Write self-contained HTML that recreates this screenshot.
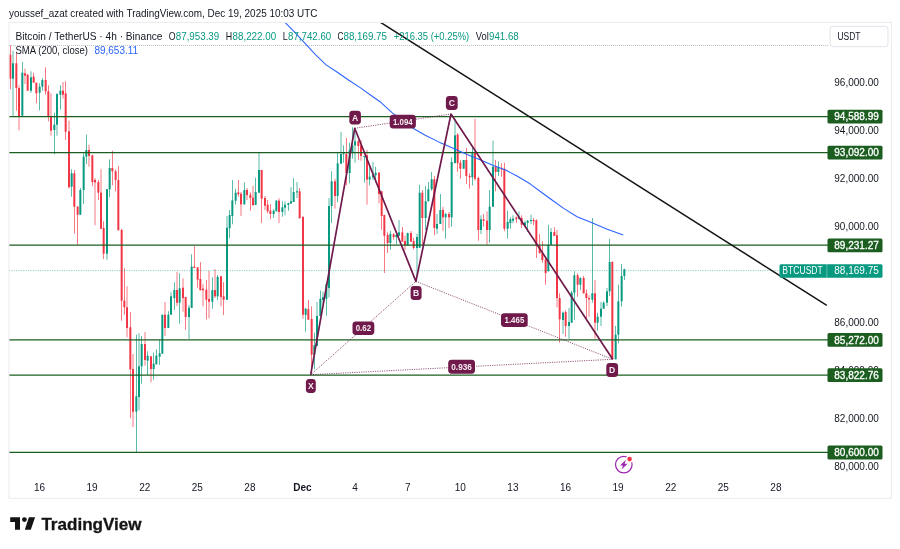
<!DOCTYPE html><html><head><meta charset="utf-8"><title>chart</title><style>html,body{margin:0;padding:0;background:#fff}svg{display:block;will-change:transform}</style></head><body><svg width="900" height="549" viewBox="0 0 900 549" font-family='"Liberation Sans", sans-serif'>
<rect width="900" height="549" fill="#fff"/>
<text x="9" y="16.7" font-size="10.6" fill="#131722" textLength="308.5" lengthAdjust="spacingAndGlyphs">youssef_azat created with TradingView.com, Dec 19, 2025 10:03 UTC</text>
<rect x="8.9" y="22.4" width="882.5" height="475.90000000000003" fill="#fff" stroke="#ebebef" stroke-width="1"/>
<clipPath id="cp"><rect x="9.4" y="22.9" width="818.6" height="474.90000000000003"/></clipPath>
<g clip-path="url(#cp)">
<rect x="10.000" y="45.3" width="0.667" height="44.0" fill="#f23645"/>
<rect x="9.333" y="54.7" width="2" height="24.0" fill="#f23645"/>
<rect x="12.667" y="50.7" width="0.667" height="65.0" fill="#089981"/>
<rect x="12.000" y="63.3" width="2" height="15.4" fill="#089981"/>
<rect x="16.000" y="52.0" width="0.667" height="58.7" fill="#f23645"/>
<rect x="15.333" y="63.3" width="2" height="24.7" fill="#f23645"/>
<rect x="18.667" y="85.3" width="0.667" height="45.1" fill="#f23645"/>
<rect x="18.000" y="88.0" width="2" height="28.0" fill="#f23645"/>
<rect x="22.000" y="62.0" width="0.667" height="53.7" fill="#089981"/>
<rect x="21.333" y="72.7" width="2" height="43.0" fill="#089981"/>
<rect x="24.667" y="68.7" width="0.667" height="15.3" fill="#f23645"/>
<rect x="24.000" y="73.3" width="2" height="2.4" fill="#f23645"/>
<rect x="27.333" y="74.0" width="0.667" height="16.7" fill="#f23645"/>
<rect x="26.667" y="74.7" width="2" height="16.0" fill="#f23645"/>
<rect x="30.667" y="71.3" width="0.667" height="21.4" fill="#089981"/>
<rect x="30.000" y="77.3" width="2" height="13.4" fill="#089981"/>
<rect x="33.333" y="72.7" width="0.667" height="10.0" fill="#f23645"/>
<rect x="32.667" y="76.7" width="2" height="6.0" fill="#f23645"/>
<rect x="36.000" y="82.7" width="0.667" height="20.6" fill="#f23645"/>
<rect x="35.333" y="82.7" width="2" height="10.6" fill="#f23645"/>
<rect x="39.333" y="83.3" width="0.667" height="27.1" fill="#089981"/>
<rect x="38.667" y="86.7" width="2" height="6.0" fill="#089981"/>
<rect x="42.000" y="78.0" width="0.667" height="12.7" fill="#089981"/>
<rect x="41.333" y="80.0" width="2" height="6.7" fill="#089981"/>
<rect x="45.333" y="67.3" width="0.667" height="27.4" fill="#f23645"/>
<rect x="44.667" y="80.0" width="2" height="11.3" fill="#f23645"/>
<rect x="48.000" y="85.3" width="0.667" height="36.0" fill="#f23645"/>
<rect x="47.333" y="91.3" width="2" height="24.7" fill="#f23645"/>
<rect x="50.667" y="93.3" width="0.667" height="42.4" fill="#f23645"/>
<rect x="50.000" y="116.0" width="2" height="14.7" fill="#f23645"/>
<rect x="54.000" y="112.7" width="0.667" height="41.7" fill="#089981"/>
<rect x="53.333" y="124.7" width="2" height="5.3" fill="#089981"/>
<rect x="56.667" y="93.3" width="0.667" height="42.4" fill="#089981"/>
<rect x="56.000" y="94.0" width="2" height="30.7" fill="#089981"/>
<rect x="60.000" y="85.3" width="0.667" height="24.3" fill="#089981"/>
<rect x="59.333" y="90.7" width="2" height="4.0" fill="#089981"/>
<rect x="62.667" y="82.0" width="0.667" height="16.7" fill="#f23645"/>
<rect x="62.000" y="90.7" width="2" height="4.0" fill="#f23645"/>
<rect x="65.333" y="81.3" width="0.667" height="58.7" fill="#f23645"/>
<rect x="64.667" y="93.3" width="2" height="38.4" fill="#f23645"/>
<rect x="68.667" y="120.7" width="0.667" height="67.3" fill="#f23645"/>
<rect x="68.000" y="131.3" width="2" height="56.0" fill="#f23645"/>
<rect x="71.333" y="169.3" width="0.667" height="27.4" fill="#089981"/>
<rect x="70.667" y="173.3" width="2" height="13.4" fill="#089981"/>
<rect x="74.000" y="170.0" width="0.667" height="63.7" fill="#f23645"/>
<rect x="73.333" y="173.3" width="2" height="33.4" fill="#f23645"/>
<rect x="77.333" y="206.0" width="0.667" height="38.7" fill="#f23645"/>
<rect x="76.667" y="206.7" width="2" height="8.0" fill="#f23645"/>
<rect x="80.000" y="188.0" width="0.667" height="26.7" fill="#089981"/>
<rect x="79.333" y="190.0" width="2" height="24.7" fill="#089981"/>
<rect x="83.333" y="153.3" width="0.667" height="50.7" fill="#089981"/>
<rect x="82.667" y="156.7" width="2" height="33.3" fill="#089981"/>
<rect x="86.000" y="134.7" width="0.667" height="29.3" fill="#089981"/>
<rect x="85.333" y="150.0" width="2" height="6.7" fill="#089981"/>
<rect x="88.667" y="144.7" width="0.667" height="22.0" fill="#f23645"/>
<rect x="88.000" y="150.0" width="2" height="6.0" fill="#f23645"/>
<rect x="92.000" y="154.7" width="0.667" height="31.3" fill="#f23645"/>
<rect x="91.333" y="155.3" width="2" height="26.7" fill="#f23645"/>
<rect x="94.667" y="178.0" width="0.667" height="47.3" fill="#f23645"/>
<rect x="94.000" y="180.0" width="2" height="2.4" fill="#f23645"/>
<rect x="98.000" y="180.0" width="0.667" height="20.0" fill="#f23645"/>
<rect x="97.333" y="182.0" width="2" height="10.7" fill="#f23645"/>
<rect x="100.667" y="169.3" width="0.667" height="59.4" fill="#f23645"/>
<rect x="100.000" y="192.7" width="2" height="36.0" fill="#f23645"/>
<rect x="103.333" y="221.3" width="0.667" height="37.7" fill="#f23645"/>
<rect x="102.667" y="228.0" width="2" height="25.7" fill="#f23645"/>
<rect x="106.667" y="189.1" width="0.667" height="70.6" fill="#089981"/>
<rect x="106.000" y="189.1" width="2" height="64.6" fill="#089981"/>
<rect x="109.333" y="159.3" width="0.667" height="38.0" fill="#089981"/>
<rect x="108.667" y="168.0" width="2" height="21.3" fill="#089981"/>
<rect x="112.000" y="150.7" width="0.667" height="34.6" fill="#f23645"/>
<rect x="111.333" y="168.0" width="2" height="3.3" fill="#f23645"/>
<rect x="115.333" y="169.3" width="0.667" height="22.0" fill="#f23645"/>
<rect x="114.667" y="171.3" width="2" height="8.7" fill="#f23645"/>
<rect x="118.000" y="166.0" width="0.667" height="64.3" fill="#f23645"/>
<rect x="117.333" y="180.0" width="2" height="50.3" fill="#f23645"/>
<rect x="121.333" y="228.7" width="0.667" height="92.0" fill="#f23645"/>
<rect x="120.667" y="230.0" width="2" height="70.7" fill="#f23645"/>
<rect x="124.000" y="268.3" width="0.667" height="46.4" fill="#f23645"/>
<rect x="123.333" y="300.7" width="2" height="6.6" fill="#f23645"/>
<rect x="126.667" y="286.3" width="0.667" height="51.0" fill="#f23645"/>
<rect x="126.000" y="307.3" width="2" height="20.7" fill="#f23645"/>
<rect x="130.000" y="312.0" width="0.667" height="106.3" fill="#f23645"/>
<rect x="129.333" y="327.3" width="2" height="42.1" fill="#f23645"/>
<rect x="132.667" y="354.0" width="0.667" height="73.0" fill="#f23645"/>
<rect x="132.000" y="369.0" width="2" height="42.7" fill="#f23645"/>
<rect x="136.000" y="334.7" width="0.667" height="117.3" fill="#089981"/>
<rect x="135.333" y="396.3" width="2" height="15.4" fill="#089981"/>
<rect x="138.667" y="333.3" width="0.667" height="77.0" fill="#089981"/>
<rect x="138.000" y="366.3" width="2" height="30.7" fill="#089981"/>
<rect x="141.333" y="336.0" width="0.667" height="47.7" fill="#089981"/>
<rect x="140.667" y="344.0" width="2" height="22.3" fill="#089981"/>
<rect x="144.667" y="332.0" width="0.667" height="33.7" fill="#f23645"/>
<rect x="144.000" y="344.0" width="2" height="16.0" fill="#f23645"/>
<rect x="147.333" y="351.3" width="0.667" height="23.7" fill="#089981"/>
<rect x="146.667" y="355.7" width="2" height="5.0" fill="#089981"/>
<rect x="150.667" y="356.0" width="0.667" height="26.3" fill="#f23645"/>
<rect x="150.000" y="356.3" width="2" height="12.7" fill="#f23645"/>
<rect x="153.333" y="352.7" width="0.667" height="27.0" fill="#089981"/>
<rect x="152.667" y="363.7" width="2" height="5.3" fill="#089981"/>
<rect x="156.000" y="349.3" width="0.667" height="15.0" fill="#089981"/>
<rect x="155.333" y="355.7" width="2" height="8.6" fill="#089981"/>
<rect x="159.333" y="340.0" width="0.667" height="25.0" fill="#089981"/>
<rect x="158.667" y="353.3" width="2" height="3.4" fill="#089981"/>
<rect x="162.000" y="314.7" width="0.667" height="39.0" fill="#089981"/>
<rect x="161.333" y="314.7" width="2" height="39.0" fill="#089981"/>
<rect x="164.667" y="302.0" width="0.667" height="34.0" fill="#f23645"/>
<rect x="164.000" y="314.7" width="2" height="13.3" fill="#f23645"/>
<rect x="168.000" y="311.3" width="0.667" height="16.7" fill="#089981"/>
<rect x="167.333" y="314.7" width="2" height="13.3" fill="#089981"/>
<rect x="170.667" y="292.3" width="0.667" height="22.4" fill="#089981"/>
<rect x="170.000" y="296.3" width="2" height="18.4" fill="#089981"/>
<rect x="174.000" y="282.3" width="0.667" height="27.7" fill="#089981"/>
<rect x="173.333" y="290.0" width="2" height="8.1" fill="#089981"/>
<rect x="176.667" y="271.7" width="0.667" height="34.3" fill="#f23645"/>
<rect x="176.000" y="290.0" width="2" height="12.7" fill="#f23645"/>
<rect x="179.333" y="273.3" width="0.667" height="50.4" fill="#089981"/>
<rect x="178.667" y="288.3" width="2" height="14.4" fill="#089981"/>
<rect x="182.667" y="278.3" width="0.667" height="33.4" fill="#f23645"/>
<rect x="182.000" y="287.7" width="2" height="10.4" fill="#f23645"/>
<rect x="185.333" y="297.0" width="0.667" height="32.7" fill="#f23645"/>
<rect x="184.667" y="297.0" width="2" height="20.0" fill="#f23645"/>
<rect x="188.667" y="305.0" width="0.667" height="34.0" fill="#089981"/>
<rect x="188.000" y="307.7" width="2" height="9.3" fill="#089981"/>
<rect x="191.333" y="254.3" width="0.667" height="53.6" fill="#089981"/>
<rect x="190.667" y="266.6" width="2" height="41.3" fill="#089981"/>
<rect x="194.000" y="246.1" width="0.667" height="21.8" fill="#f23645"/>
<rect x="193.333" y="266.6" width="2" height="1.3" fill="#f23645"/>
<rect x="197.333" y="267.0" width="0.667" height="20.7" fill="#f23645"/>
<rect x="196.667" y="267.4" width="2" height="12.3" fill="#f23645"/>
<rect x="200.000" y="262.1" width="0.667" height="28.2" fill="#f23645"/>
<rect x="199.333" y="279.0" width="2" height="11.3" fill="#f23645"/>
<rect x="202.667" y="284.3" width="0.667" height="22.0" fill="#f23645"/>
<rect x="202.000" y="288.7" width="2" height="1.6" fill="#f23645"/>
<rect x="206.000" y="279.9" width="0.667" height="39.5" fill="#f23645"/>
<rect x="205.333" y="289.7" width="2" height="10.0" fill="#f23645"/>
<rect x="208.667" y="271.0" width="0.667" height="47.3" fill="#f23645"/>
<rect x="208.000" y="299.0" width="2" height="2.7" fill="#f23645"/>
<rect x="212.000" y="277.3" width="0.667" height="31.4" fill="#089981"/>
<rect x="211.333" y="290.1" width="2" height="11.6" fill="#089981"/>
<rect x="214.667" y="269.0" width="0.667" height="29.1" fill="#f23645"/>
<rect x="214.000" y="290.1" width="2" height="6.2" fill="#f23645"/>
<rect x="217.333" y="275.0" width="0.667" height="25.3" fill="#089981"/>
<rect x="216.667" y="277.0" width="2" height="19.3" fill="#089981"/>
<rect x="220.667" y="275.7" width="0.667" height="30.6" fill="#f23645"/>
<rect x="220.000" y="276.3" width="2" height="20.7" fill="#f23645"/>
<rect x="223.333" y="282.1" width="0.667" height="32.9" fill="#f23645"/>
<rect x="222.667" y="296.3" width="2" height="3.4" fill="#f23645"/>
<rect x="226.667" y="216.0" width="0.667" height="83.7" fill="#089981"/>
<rect x="226.000" y="227.7" width="2" height="72.0" fill="#089981"/>
<rect x="229.333" y="210.0" width="0.667" height="28.3" fill="#089981"/>
<rect x="228.667" y="215.0" width="2" height="13.3" fill="#089981"/>
<rect x="232.000" y="180.0" width="0.667" height="44.3" fill="#089981"/>
<rect x="231.333" y="200.4" width="2" height="15.6" fill="#089981"/>
<rect x="235.333" y="188.7" width="0.667" height="16.0" fill="#089981"/>
<rect x="234.667" y="192.7" width="2" height="8.0" fill="#089981"/>
<rect x="238.000" y="180.0" width="0.667" height="16.7" fill="#f23645"/>
<rect x="237.333" y="192.4" width="2" height="1.9" fill="#f23645"/>
<rect x="240.667" y="192.0" width="0.667" height="24.0" fill="#f23645"/>
<rect x="240.000" y="193.7" width="2" height="10.7" fill="#f23645"/>
<rect x="244.000" y="182.3" width="0.667" height="22.1" fill="#089981"/>
<rect x="243.333" y="190.0" width="2" height="14.4" fill="#089981"/>
<rect x="246.667" y="188.0" width="0.667" height="12.0" fill="#f23645"/>
<rect x="246.000" y="190.0" width="2" height="5.1" fill="#f23645"/>
<rect x="250.000" y="192.4" width="0.667" height="18.3" fill="#f23645"/>
<rect x="249.333" y="194.7" width="2" height="3.3" fill="#f23645"/>
<rect x="252.667" y="185.7" width="0.667" height="19.6" fill="#f23645"/>
<rect x="252.000" y="197.7" width="2" height="7.6" fill="#f23645"/>
<rect x="255.333" y="177.7" width="0.667" height="27.2" fill="#089981"/>
<rect x="254.667" y="192.0" width="2" height="12.9" fill="#089981"/>
<rect x="258.667" y="152.4" width="0.667" height="40.3" fill="#089981"/>
<rect x="258.000" y="170.0" width="2" height="22.7" fill="#089981"/>
<rect x="261.333" y="170.0" width="0.667" height="53.1" fill="#f23645"/>
<rect x="260.667" y="170.0" width="2" height="28.7" fill="#f23645"/>
<rect x="264.667" y="196.0" width="0.667" height="14.0" fill="#f23645"/>
<rect x="264.000" y="198.0" width="2" height="7.7" fill="#f23645"/>
<rect x="267.333" y="200.0" width="0.667" height="13.3" fill="#f23645"/>
<rect x="266.667" y="204.7" width="2" height="6.6" fill="#f23645"/>
<rect x="270.000" y="204.0" width="0.667" height="15.1" fill="#f23645"/>
<rect x="269.333" y="210.7" width="2" height="3.3" fill="#f23645"/>
<rect x="273.333" y="209.3" width="0.667" height="8.7" fill="#089981"/>
<rect x="272.667" y="210.7" width="2" height="3.3" fill="#089981"/>
<rect x="276.000" y="200.0" width="0.667" height="11.3" fill="#089981"/>
<rect x="275.333" y="200.7" width="2" height="10.6" fill="#089981"/>
<rect x="278.667" y="198.3" width="0.667" height="24.8" fill="#f23645"/>
<rect x="278.000" y="200.7" width="2" height="11.3" fill="#f23645"/>
<rect x="282.000" y="201.3" width="0.667" height="15.4" fill="#089981"/>
<rect x="281.333" y="207.3" width="2" height="4.7" fill="#089981"/>
<rect x="284.667" y="201.3" width="0.667" height="14.0" fill="#089981"/>
<rect x="284.000" y="204.7" width="2" height="2.9" fill="#089981"/>
<rect x="288.000" y="202.7" width="0.667" height="8.0" fill="#089981"/>
<rect x="287.333" y="203.1" width="2" height="1.8" fill="#089981"/>
<rect x="290.667" y="187.1" width="0.667" height="16.5" fill="#089981"/>
<rect x="290.000" y="201.3" width="2" height="2.3" fill="#089981"/>
<rect x="293.333" y="178.3" width="0.667" height="23.7" fill="#089981"/>
<rect x="292.667" y="192.0" width="2" height="10.0" fill="#089981"/>
<rect x="296.667" y="182.0" width="0.667" height="16.0" fill="#089981"/>
<rect x="296.000" y="191.3" width="2" height="1.1" fill="#089981"/>
<rect x="299.333" y="188.0" width="0.667" height="30.3" fill="#f23645"/>
<rect x="298.667" y="191.3" width="2" height="27.0" fill="#f23645"/>
<rect x="302.667" y="216.0" width="0.667" height="102.7" fill="#f23645"/>
<rect x="302.000" y="217.0" width="2" height="97.7" fill="#f23645"/>
<rect x="305.333" y="308.0" width="0.667" height="23.7" fill="#089981"/>
<rect x="304.667" y="308.7" width="2" height="6.2" fill="#089981"/>
<rect x="308.000" y="300.0" width="0.667" height="19.7" fill="#f23645"/>
<rect x="307.333" y="309.1" width="2" height="10.6" fill="#f23645"/>
<rect x="311.333" y="306.4" width="0.667" height="66.3" fill="#f23645"/>
<rect x="310.667" y="318.9" width="2" height="35.8" fill="#f23645"/>
<rect x="314.000" y="332.7" width="0.667" height="36.6" fill="#089981"/>
<rect x="313.333" y="345.3" width="2" height="9.4" fill="#089981"/>
<rect x="316.667" y="302.0" width="0.667" height="44.0" fill="#089981"/>
<rect x="316.000" y="316.0" width="2" height="30.0" fill="#089981"/>
<rect x="320.000" y="290.4" width="0.667" height="25.6" fill="#089981"/>
<rect x="319.333" y="298.9" width="2" height="17.1" fill="#089981"/>
<rect x="322.667" y="291.7" width="0.667" height="11.6" fill="#089981"/>
<rect x="322.000" y="297.1" width="2" height="2.9" fill="#089981"/>
<rect x="326.000" y="282.7" width="0.667" height="33.0" fill="#089981"/>
<rect x="325.333" y="284.0" width="2" height="14.7" fill="#089981"/>
<rect x="328.667" y="198.0" width="0.667" height="99.3" fill="#089981"/>
<rect x="328.000" y="206.0" width="2" height="82.1" fill="#089981"/>
<rect x="331.333" y="171.3" width="0.667" height="51.8" fill="#089981"/>
<rect x="330.667" y="181.3" width="2" height="24.7" fill="#089981"/>
<rect x="334.667" y="178.7" width="0.667" height="30.0" fill="#f23645"/>
<rect x="334.000" y="181.3" width="2" height="14.7" fill="#f23645"/>
<rect x="337.333" y="152.7" width="0.667" height="49.3" fill="#089981"/>
<rect x="336.667" y="163.3" width="2" height="32.7" fill="#089981"/>
<rect x="340.667" y="132.0" width="0.667" height="31.7" fill="#089981"/>
<rect x="340.000" y="154.0" width="2" height="9.7" fill="#089981"/>
<rect x="343.333" y="145.3" width="0.667" height="17.4" fill="#089981"/>
<rect x="342.667" y="153.2" width="2" height="1.0" fill="#089981"/>
<rect x="346.000" y="138.0" width="0.667" height="47.3" fill="#f23645"/>
<rect x="345.333" y="154.0" width="2" height="19.1" fill="#f23645"/>
<rect x="349.333" y="142.7" width="0.667" height="40.6" fill="#089981"/>
<rect x="348.667" y="150.0" width="2" height="23.1" fill="#089981"/>
<rect x="352.000" y="127.3" width="0.667" height="31.4" fill="#089981"/>
<rect x="351.333" y="145.3" width="2" height="8.0" fill="#089981"/>
<rect x="354.667" y="128.7" width="0.667" height="34.0" fill="#089981"/>
<rect x="354.000" y="141.3" width="2" height="4.0" fill="#089981"/>
<rect x="358.000" y="140.0" width="0.667" height="20.0" fill="#f23645"/>
<rect x="357.333" y="141.3" width="2" height="4.7" fill="#f23645"/>
<rect x="360.667" y="140.0" width="0.667" height="20.7" fill="#f23645"/>
<rect x="360.000" y="145.3" width="2" height="10.7" fill="#f23645"/>
<rect x="364.000" y="156.0" width="0.667" height="26.7" fill="#089981"/>
<rect x="363.333" y="156.0" width="2" height="1.1" fill="#089981"/>
<rect x="366.667" y="150.0" width="0.667" height="54.7" fill="#f23645"/>
<rect x="366.000" y="155.3" width="2" height="24.3" fill="#f23645"/>
<rect x="369.333" y="164.0" width="0.667" height="21.3" fill="#089981"/>
<rect x="368.667" y="176.7" width="2" height="2.9" fill="#089981"/>
<rect x="372.667" y="162.0" width="0.667" height="18.0" fill="#089981"/>
<rect x="372.000" y="174.7" width="2" height="2.6" fill="#089981"/>
<rect x="375.333" y="166.7" width="0.667" height="16.0" fill="#089981"/>
<rect x="374.667" y="172.7" width="2" height="2.6" fill="#089981"/>
<rect x="378.667" y="172.0" width="0.667" height="31.3" fill="#f23645"/>
<rect x="378.000" y="172.7" width="2" height="21.3" fill="#f23645"/>
<rect x="381.333" y="191.3" width="0.667" height="38.4" fill="#f23645"/>
<rect x="380.667" y="191.3" width="2" height="24.7" fill="#f23645"/>
<rect x="384.000" y="214.7" width="0.667" height="58.3" fill="#f23645"/>
<rect x="383.333" y="215.0" width="2" height="20.7" fill="#f23645"/>
<rect x="387.333" y="232.3" width="0.667" height="20.7" fill="#f23645"/>
<rect x="386.667" y="235.0" width="2" height="8.0" fill="#f23645"/>
<rect x="390.000" y="231.0" width="0.667" height="18.7" fill="#089981"/>
<rect x="389.333" y="233.9" width="2" height="9.1" fill="#089981"/>
<rect x="393.333" y="233.0" width="0.667" height="6.7" fill="#f23645"/>
<rect x="392.667" y="234.3" width="2" height="2.7" fill="#f23645"/>
<rect x="396.000" y="234.3" width="0.667" height="10.0" fill="#089981"/>
<rect x="395.333" y="235.0" width="2" height="2.0" fill="#089981"/>
<rect x="398.667" y="220.0" width="0.667" height="15.7" fill="#089981"/>
<rect x="398.000" y="232.3" width="2" height="3.4" fill="#089981"/>
<rect x="402.000" y="227.0" width="0.667" height="14.7" fill="#f23645"/>
<rect x="401.333" y="232.3" width="2" height="9.4" fill="#f23645"/>
<rect x="404.667" y="235.7" width="0.667" height="14.6" fill="#f23645"/>
<rect x="404.000" y="241.0" width="2" height="4.3" fill="#f23645"/>
<rect x="407.333" y="232.9" width="0.667" height="12.4" fill="#089981"/>
<rect x="406.667" y="232.9" width="2" height="12.4" fill="#089981"/>
<rect x="410.667" y="231.0" width="0.667" height="10.7" fill="#f23645"/>
<rect x="410.000" y="233.0" width="2" height="8.7" fill="#f23645"/>
<rect x="413.333" y="237.7" width="0.667" height="11.6" fill="#f23645"/>
<rect x="412.667" y="241.0" width="2" height="7.0" fill="#f23645"/>
<rect x="416.667" y="233.7" width="0.667" height="41.6" fill="#089981"/>
<rect x="416.000" y="237.0" width="2" height="11.0" fill="#089981"/>
<rect x="419.333" y="184.7" width="0.667" height="63.3" fill="#089981"/>
<rect x="418.667" y="192.7" width="2" height="55.0" fill="#089981"/>
<rect x="422.000" y="190.0" width="0.667" height="55.3" fill="#f23645"/>
<rect x="421.333" y="192.7" width="2" height="25.3" fill="#f23645"/>
<rect x="425.333" y="186.0" width="0.667" height="44.0" fill="#089981"/>
<rect x="424.667" y="201.3" width="2" height="16.7" fill="#089981"/>
<rect x="428.000" y="182.0" width="0.667" height="19.3" fill="#089981"/>
<rect x="427.333" y="189.3" width="2" height="12.0" fill="#089981"/>
<rect x="431.333" y="172.0" width="0.667" height="18.7" fill="#089981"/>
<rect x="430.667" y="179.3" width="2" height="10.0" fill="#089981"/>
<rect x="434.000" y="176.0" width="0.667" height="59.3" fill="#f23645"/>
<rect x="433.333" y="179.3" width="2" height="48.7" fill="#f23645"/>
<rect x="436.667" y="214.0" width="0.667" height="20.0" fill="#089981"/>
<rect x="436.000" y="224.0" width="2" height="4.7" fill="#089981"/>
<rect x="440.000" y="194.0" width="0.667" height="30.0" fill="#089981"/>
<rect x="439.333" y="210.0" width="2" height="14.0" fill="#089981"/>
<rect x="442.667" y="206.7" width="0.667" height="24.0" fill="#f23645"/>
<rect x="442.000" y="210.0" width="2" height="7.3" fill="#f23645"/>
<rect x="445.333" y="212.7" width="0.667" height="26.0" fill="#089981"/>
<rect x="444.667" y="214.0" width="2" height="3.3" fill="#089981"/>
<rect x="448.667" y="212.0" width="0.667" height="16.0" fill="#f23645"/>
<rect x="448.000" y="214.0" width="2" height="3.3" fill="#f23645"/>
<rect x="451.333" y="157.3" width="0.667" height="69.4" fill="#089981"/>
<rect x="450.667" y="162.0" width="2" height="55.3" fill="#089981"/>
<rect x="454.667" y="118.7" width="0.667" height="44.4" fill="#089981"/>
<rect x="454.000" y="135.3" width="2" height="27.8" fill="#089981"/>
<rect x="457.333" y="133.3" width="0.667" height="38.7" fill="#f23645"/>
<rect x="456.667" y="134.7" width="2" height="28.4" fill="#f23645"/>
<rect x="460.000" y="160.0" width="0.667" height="18.7" fill="#f23645"/>
<rect x="459.333" y="162.7" width="2" height="6.0" fill="#f23645"/>
<rect x="463.333" y="160.0" width="0.667" height="8.7" fill="#089981"/>
<rect x="462.667" y="160.0" width="2" height="8.7" fill="#089981"/>
<rect x="466.000" y="148.0" width="0.667" height="36.0" fill="#f23645"/>
<rect x="465.333" y="160.0" width="2" height="16.0" fill="#f23645"/>
<rect x="469.333" y="173.3" width="0.667" height="15.4" fill="#f23645"/>
<rect x="468.667" y="176.0" width="2" height="1.3" fill="#f23645"/>
<rect x="472.000" y="148.0" width="0.667" height="37.3" fill="#089981"/>
<rect x="471.333" y="153.3" width="2" height="24.0" fill="#089981"/>
<rect x="474.667" y="118.7" width="0.667" height="62.0" fill="#f23645"/>
<rect x="474.000" y="152.7" width="2" height="26.0" fill="#f23645"/>
<rect x="478.000" y="176.7" width="0.667" height="64.0" fill="#f23645"/>
<rect x="477.333" y="178.0" width="2" height="52.0" fill="#f23645"/>
<rect x="480.667" y="215.3" width="0.667" height="18.7" fill="#089981"/>
<rect x="480.000" y="219.3" width="2" height="10.7" fill="#089981"/>
<rect x="483.333" y="214.0" width="0.667" height="12.7" fill="#f23645"/>
<rect x="482.667" y="219.3" width="2" height="1.6" fill="#f23645"/>
<rect x="486.667" y="211.3" width="0.667" height="33.4" fill="#f23645"/>
<rect x="486.000" y="220.7" width="2" height="9.3" fill="#f23645"/>
<rect x="489.333" y="190.0" width="0.667" height="52.7" fill="#089981"/>
<rect x="488.667" y="206.7" width="2" height="23.3" fill="#089981"/>
<rect x="492.667" y="140.7" width="0.667" height="66.0" fill="#089981"/>
<rect x="492.000" y="166.7" width="2" height="40.0" fill="#089981"/>
<rect x="495.333" y="160.0" width="0.667" height="31.3" fill="#f23645"/>
<rect x="494.667" y="166.7" width="2" height="5.3" fill="#f23645"/>
<rect x="498.000" y="161.3" width="0.667" height="14.7" fill="#089981"/>
<rect x="497.333" y="167.3" width="2" height="4.7" fill="#089981"/>
<rect x="501.333" y="163.3" width="0.667" height="13.4" fill="#f23645"/>
<rect x="500.667" y="168.6" width="2" height="1.0" fill="#f23645"/>
<rect x="504.000" y="162.7" width="0.667" height="68.6" fill="#f23645"/>
<rect x="503.333" y="168.7" width="2" height="60.0" fill="#f23645"/>
<rect x="507.333" y="210.7" width="0.667" height="28.0" fill="#089981"/>
<rect x="506.667" y="222.0" width="2" height="6.7" fill="#089981"/>
<rect x="510.000" y="217.3" width="0.667" height="11.4" fill="#089981"/>
<rect x="509.333" y="219.3" width="2" height="3.8" fill="#089981"/>
<rect x="512.667" y="215.3" width="0.667" height="8.0" fill="#089981"/>
<rect x="512.000" y="218.7" width="2" height="2.0" fill="#089981"/>
<rect x="516.000" y="216.7" width="0.667" height="6.4" fill="#f23645"/>
<rect x="515.333" y="217.3" width="2" height="2.0" fill="#f23645"/>
<rect x="518.667" y="211.3" width="0.667" height="8.0" fill="#089981"/>
<rect x="518.000" y="216.7" width="2" height="2.0" fill="#089981"/>
<rect x="521.333" y="215.3" width="0.667" height="12.7" fill="#f23645"/>
<rect x="520.667" y="218.0" width="2" height="6.7" fill="#f23645"/>
<rect x="524.667" y="220.7" width="0.667" height="5.3" fill="#089981"/>
<rect x="524.000" y="222.7" width="2" height="2.6" fill="#089981"/>
<rect x="527.333" y="220.0" width="0.667" height="12.0" fill="#089981"/>
<rect x="526.667" y="220.7" width="2" height="2.2" fill="#089981"/>
<rect x="530.667" y="214.7" width="0.667" height="9.3" fill="#089981"/>
<rect x="530.000" y="220.0" width="2" height="1.1" fill="#089981"/>
<rect x="533.333" y="218.0" width="0.667" height="7.3" fill="#f23645"/>
<rect x="532.667" y="220.0" width="2" height="1.3" fill="#f23645"/>
<rect x="536.000" y="219.3" width="0.667" height="38.7" fill="#f23645"/>
<rect x="535.333" y="220.3" width="2" height="25.7" fill="#f23645"/>
<rect x="539.333" y="234.0" width="0.667" height="19.3" fill="#f23645"/>
<rect x="538.667" y="246.0" width="2" height="7.3" fill="#f23645"/>
<rect x="542.000" y="241.3" width="0.667" height="21.4" fill="#f23645"/>
<rect x="541.333" y="253.3" width="2" height="6.7" fill="#f23645"/>
<rect x="545.333" y="258.7" width="0.667" height="26.0" fill="#f23645"/>
<rect x="544.667" y="259.3" width="2" height="13.8" fill="#f23645"/>
<rect x="548.000" y="224.7" width="0.667" height="46.6" fill="#089981"/>
<rect x="547.333" y="244.7" width="2" height="26.6" fill="#089981"/>
<rect x="550.667" y="228.0" width="0.667" height="16.7" fill="#089981"/>
<rect x="550.000" y="232.0" width="2" height="12.7" fill="#089981"/>
<rect x="554.000" y="227.3" width="0.667" height="8.7" fill="#f23645"/>
<rect x="553.333" y="232.0" width="2" height="4.0" fill="#f23645"/>
<rect x="556.667" y="230.0" width="0.667" height="77.3" fill="#f23645"/>
<rect x="556.000" y="235.3" width="2" height="62.7" fill="#f23645"/>
<rect x="559.333" y="293.3" width="0.667" height="49.4" fill="#f23645"/>
<rect x="558.667" y="298.0" width="2" height="21.3" fill="#f23645"/>
<rect x="562.667" y="311.3" width="0.667" height="22.7" fill="#089981"/>
<rect x="562.000" y="312.7" width="2" height="7.3" fill="#089981"/>
<rect x="565.333" y="310.0" width="0.667" height="26.7" fill="#f23645"/>
<rect x="564.667" y="312.0" width="2" height="14.0" fill="#f23645"/>
<rect x="568.667" y="308.0" width="0.667" height="30.7" fill="#089981"/>
<rect x="568.000" y="322.0" width="2" height="4.0" fill="#089981"/>
<rect x="571.333" y="290.7" width="0.667" height="32.0" fill="#089981"/>
<rect x="570.667" y="292.7" width="2" height="30.0" fill="#089981"/>
<rect x="574.000" y="271.3" width="0.667" height="48.7" fill="#089981"/>
<rect x="573.333" y="275.3" width="2" height="17.4" fill="#089981"/>
<rect x="577.333" y="273.3" width="0.667" height="23.4" fill="#f23645"/>
<rect x="576.667" y="275.3" width="2" height="9.4" fill="#f23645"/>
<rect x="580.000" y="277.3" width="0.667" height="12.7" fill="#089981"/>
<rect x="579.333" y="278.0" width="2" height="6.7" fill="#089981"/>
<rect x="583.333" y="276.0" width="0.667" height="17.3" fill="#f23645"/>
<rect x="582.667" y="278.0" width="2" height="15.3" fill="#f23645"/>
<rect x="586.000" y="289.3" width="0.667" height="29.4" fill="#f23645"/>
<rect x="585.333" y="293.3" width="2" height="4.7" fill="#f23645"/>
<rect x="588.667" y="295.3" width="0.667" height="21.4" fill="#f23645"/>
<rect x="588.000" y="298.0" width="2" height="1.3" fill="#f23645"/>
<rect x="592.000" y="218.0" width="0.667" height="84.7" fill="#089981"/>
<rect x="591.333" y="293.3" width="2" height="6.4" fill="#089981"/>
<rect x="594.667" y="280.0" width="0.667" height="58.7" fill="#f23645"/>
<rect x="594.000" y="293.3" width="2" height="29.4" fill="#f23645"/>
<rect x="597.333" y="312.7" width="0.667" height="18.0" fill="#089981"/>
<rect x="596.667" y="316.7" width="2" height="6.0" fill="#089981"/>
<rect x="600.667" y="302.0" width="0.667" height="24.0" fill="#089981"/>
<rect x="600.000" y="308.7" width="2" height="8.0" fill="#089981"/>
<rect x="603.333" y="301.3" width="0.667" height="7.4" fill="#089981"/>
<rect x="602.667" y="302.7" width="2" height="6.0" fill="#089981"/>
<rect x="606.667" y="288.0" width="0.667" height="18.0" fill="#089981"/>
<rect x="606.000" y="291.3" width="2" height="11.4" fill="#089981"/>
<rect x="609.333" y="238.9" width="0.667" height="57.1" fill="#089981"/>
<rect x="608.667" y="262.0" width="2" height="29.3" fill="#089981"/>
<rect x="612.000" y="261.3" width="0.667" height="98.0" fill="#f23645"/>
<rect x="611.333" y="262.0" width="2" height="97.3" fill="#f23645"/>
<rect x="615.333" y="326.0" width="0.667" height="33.3" fill="#089981"/>
<rect x="614.667" y="334.7" width="2" height="24.6" fill="#089981"/>
<rect x="618.000" y="284.7" width="0.667" height="58.6" fill="#089981"/>
<rect x="617.333" y="301.3" width="2" height="33.4" fill="#089981"/>
<rect x="621.333" y="264.0" width="0.667" height="42.7" fill="#089981"/>
<rect x="620.667" y="276.0" width="2" height="25.3" fill="#089981"/>
<rect x="624.000" y="268.7" width="0.667" height="11.3" fill="#089981"/>
<rect x="623.333" y="269.3" width="2" height="6.7" fill="#089981"/>
<path d="M8.9 45.5H828" stroke="#9598a1" stroke-width="1" stroke-dasharray="0.9 1.1" opacity=".7"/>
<path d="M8.9 270.6H828" stroke="#089981" stroke-width="1" stroke-dasharray="1 1.4" opacity=".55"/>
<path d="M8.9 116.62H828" stroke="#1b5e20" stroke-width="1.25"/>
<path d="M8.9 152.62H828" stroke="#1b5e20" stroke-width="1.25"/>
<path d="M8.9 245.2H828" stroke="#1b5e20" stroke-width="1.25"/>
<path d="M8.9 339.8H828" stroke="#1b5e20" stroke-width="1.25"/>
<path d="M8.9 375.1H828" stroke="#1b5e20" stroke-width="1.25"/>
<path d="M8.9 452.4H828" stroke="#1b5e20" stroke-width="1.25"/>
<polyline fill="none" stroke="#2962ff" stroke-width="1.05" stroke-linejoin="round" points="284.6,22 295.1,32.6 306,44.3 315.2,54.4 326.1,64.9 337,72 348.8,80.3 360.5,87.9 372.2,96.3 380,101.7 392.6,113.1 413.5,128.5 425.2,135.2 438.7,141.9 453.7,148.6 467.1,154.5 480.6,160 494,165.7 505.7,170 517.4,176.3 530,183.8 541,192 552,200 563.7,208.4 577.1,216.8 591.4,222.6 607.3,229.3 623.2,234.9"/>
<path d="M379.8 21.9L826.8 305.4" stroke="#131313" stroke-width="1.5"/>
<path d="M310.7 374.7L415.9 281.4" stroke="#6f1a4b" stroke-width="0.95" stroke-dasharray="1.1 1.2" opacity=".8"/>
<path d="M354.7 128.3L451 114" stroke="#6f1a4b" stroke-width="0.95" stroke-dasharray="1.1 1.2" opacity=".8"/>
<path d="M415.9 281.4L612.7 359.3" stroke="#6f1a4b" stroke-width="0.95" stroke-dasharray="1.1 1.2" opacity=".8"/>
<path d="M310.7 374.7L612.7 359.3" stroke="#6f1a4b" stroke-width="0.95" stroke-dasharray="1.1 1.2" opacity=".8"/>
<polyline fill="none" stroke="#6f1a4b" stroke-width="1.7" stroke-linejoin="round" points="310.7,374.7 354.7,128.3 415.9,281.4 451,114 612.7,359.3"/>
<rect x="349.3" y="110.7" width="11.6" height="13.8" rx="3.4" fill="#6f1a4b"/>
<text x="355.1" y="120.7" font-size="8.6" font-weight="bold" fill="#f6ecf2" text-anchor="middle">A</text>
<rect x="410.6" y="286.1" width="11" height="13.8" rx="3.4" fill="#6f1a4b"/>
<text x="416.1" y="296.1" font-size="8.6" font-weight="bold" fill="#f6ecf2" text-anchor="middle">B</text>
<rect x="445.9" y="96.1" width="11.8" height="13.8" rx="3.4" fill="#6f1a4b"/>
<text x="451.8" y="106.1" font-size="8.6" font-weight="bold" fill="#f6ecf2" text-anchor="middle">C</text>
<rect x="606.3" y="363.1" width="11.8" height="13.8" rx="3.4" fill="#6f1a4b"/>
<text x="612.2" y="373.1" font-size="8.6" font-weight="bold" fill="#f6ecf2" text-anchor="middle">D</text>
<rect x="305.9" y="379.1" width="9.9" height="13.9" rx="3.4" fill="#6f1a4b"/>
<text x="310.9" y="389.1" font-size="8.6" font-weight="bold" fill="#f6ecf2" text-anchor="middle">X</text>
<rect x="389.7" y="114.7" width="26.2" height="13.8" rx="3.4" fill="#6f1a4b"/>
<text x="402.8" y="124.7" font-size="8.6" font-weight="bold" fill="#f6ecf2" text-anchor="middle" textLength="19.6" lengthAdjust="spacingAndGlyphs">1.094</text>
<rect x="352.5" y="321.4" width="21.8" height="13.6" rx="3.4" fill="#6f1a4b"/>
<text x="363.4" y="331.3" font-size="8.6" font-weight="bold" fill="#f6ecf2" text-anchor="middle" textLength="15.4" lengthAdjust="spacingAndGlyphs">0.62</text>
<rect x="501.0" y="313.2" width="26.7" height="13.8" rx="3.4" fill="#6f1a4b"/>
<text x="514.4" y="323.2" font-size="8.6" font-weight="bold" fill="#f6ecf2" text-anchor="middle" textLength="19.8" lengthAdjust="spacingAndGlyphs">1.465</text>
<rect x="448.2" y="359.7" width="26.8" height="14" rx="3.4" fill="#6f1a4b"/>
<text x="461.6" y="369.8" font-size="8.6" font-weight="bold" fill="#f6ecf2" text-anchor="middle" textLength="20.6" lengthAdjust="spacingAndGlyphs">0.936</text>
</g>
<g transform="translate(623.8 464.6)"><circle r="8.3" fill="none" stroke="#9c27b0" stroke-width="1.2"/><circle cx="5.8" cy="-5.5" r="3.6" fill="#fff"/><circle cx="5.8" cy="-5.5" r="2.3" fill="#f23645"/><path d="M2.2 -4.8L-3.8 0.8h3L-2.2 4.8L3.8 -0.8h-3z" fill="#9c27b0"/></g>
<text x="15.5" y="39.7" font-size="10.6" fill="#131722" textLength="147" lengthAdjust="spacingAndGlyphs">Bitcoin / TetherUS · 4h · Binance</text>
<text x="168.7" y="39.7" font-size="10.6" fill="#131722" textLength="6.8" lengthAdjust="spacingAndGlyphs">O</text>
<text x="175.8" y="39.7" font-size="10.6" fill="#089981" textLength="43.4" lengthAdjust="spacingAndGlyphs">87,953.39</text>
<text x="225.8" y="39.7" font-size="10.6" fill="#131722" textLength="6.4" lengthAdjust="spacingAndGlyphs">H</text>
<text x="232.5" y="39.7" font-size="10.6" fill="#089981" textLength="43.7" lengthAdjust="spacingAndGlyphs">88,222.00</text>
<text x="282.8" y="39.7" font-size="10.6" fill="#131722" textLength="5" lengthAdjust="spacingAndGlyphs">L</text>
<text x="288" y="39.7" font-size="10.6" fill="#089981" textLength="43.2" lengthAdjust="spacingAndGlyphs">87,742.60</text>
<text x="337.5" y="39.7" font-size="10.6" fill="#131722" textLength="6" lengthAdjust="spacingAndGlyphs">C</text>
<text x="343.5" y="39.7" font-size="10.6" fill="#089981" textLength="43.5" lengthAdjust="spacingAndGlyphs">88,169.75</text>
<text x="393.7" y="39.7" font-size="10.6" fill="#089981" textLength="75.5" lengthAdjust="spacingAndGlyphs">+216.35 (+0.25%)</text>
<text x="475.8" y="39.7" font-size="10.6" fill="#131722" textLength="13" lengthAdjust="spacingAndGlyphs">Vol</text>
<text x="489" y="39.7" font-size="10.6" fill="#089981" textLength="29.7" lengthAdjust="spacingAndGlyphs">941.68</text>
<text x="15.5" y="53.9" font-size="10.6" fill="#131722" textLength="72.5" lengthAdjust="spacingAndGlyphs">SMA (200, close)</text>
<text x="94.5" y="53.9" font-size="10.6" fill="#2962ff" textLength="43.5" lengthAdjust="spacingAndGlyphs">89,653.11</text>
<text x="834.3" y="85.5" font-size="10" fill="#131722" textLength="44.5" lengthAdjust="spacingAndGlyphs">96,000.00</text>
<text x="834.3" y="133.5" font-size="10" fill="#131722" textLength="44.5" lengthAdjust="spacingAndGlyphs">94,000.00</text>
<text x="834.3" y="181.5" font-size="10" fill="#131722" textLength="44.5" lengthAdjust="spacingAndGlyphs">92,000.00</text>
<text x="834.3" y="229.5" font-size="10" fill="#131722" textLength="44.5" lengthAdjust="spacingAndGlyphs">90,000.00</text>
<text x="834.3" y="325.5" font-size="10" fill="#131722" textLength="44.5" lengthAdjust="spacingAndGlyphs">86,000.00</text>
<text x="834.3" y="373.5" font-size="10" fill="#131722" textLength="44.5" lengthAdjust="spacingAndGlyphs">84,000.00</text>
<text x="834.3" y="421.5" font-size="10" fill="#131722" textLength="44.5" lengthAdjust="spacingAndGlyphs">82,000.00</text>
<text x="834.3" y="469.5" font-size="10" fill="#131722" textLength="44.5" lengthAdjust="spacingAndGlyphs">80,000.00</text>
<rect x="827.5" y="109.8" width="55" height="13.8" rx="1.5" fill="#1b5e20"/>
<text x="834.3" y="120.3" font-size="10" fill="#fff" stroke="#fff" stroke-width=".3" textLength="44.5" lengthAdjust="spacingAndGlyphs">94,588.99</text>
<rect x="827.5" y="145.8" width="55" height="13.8" rx="1.5" fill="#1b5e20"/>
<text x="834.3" y="156.3" font-size="10" fill="#fff" stroke="#fff" stroke-width=".3" textLength="44.5" lengthAdjust="spacingAndGlyphs">93,092.00</text>
<rect x="827.5" y="238.4" width="55" height="13.8" rx="1.5" fill="#1b5e20"/>
<text x="834.3" y="248.9" font-size="10" fill="#fff" stroke="#fff" stroke-width=".3" textLength="44.5" lengthAdjust="spacingAndGlyphs">89,231.27</text>
<rect x="827.5" y="333.0" width="55" height="13.8" rx="1.5" fill="#1b5e20"/>
<text x="834.3" y="343.5" font-size="10" fill="#fff" stroke="#fff" stroke-width=".3" textLength="44.5" lengthAdjust="spacingAndGlyphs">85,272.00</text>
<rect x="827.5" y="368.3" width="55" height="13.8" rx="1.5" fill="#1b5e20"/>
<text x="834.3" y="378.8" font-size="10" fill="#fff" stroke="#fff" stroke-width=".3" textLength="44.5" lengthAdjust="spacingAndGlyphs">83,822.76</text>
<rect x="827.5" y="445.6" width="55" height="13.8" rx="1.5" fill="#1b5e20"/>
<text x="834.3" y="456.1" font-size="10" fill="#fff" stroke="#fff" stroke-width=".3" textLength="44.5" lengthAdjust="spacingAndGlyphs">80,600.00</text>
<rect x="779.5" y="264.2" width="103" height="13.6" rx="1.5" fill="#089981"/>
<path d="M826.9 264.2v13.6" stroke="#fff" stroke-opacity=".4" stroke-width=".9"/>
<text x="782.3" y="274.3" font-size="10" fill="#fff" textLength="40.5" lengthAdjust="spacingAndGlyphs">BTCUSDT</text>
<text x="834.3" y="274.3" font-size="10" fill="#fff" textLength="44.5" lengthAdjust="spacingAndGlyphs">88,169.75</text>
<rect x="830" y="26.3" width="58" height="20.4" rx="3" fill="#fff" stroke="#e0e3eb" stroke-width="1"/>
<text x="837.5" y="40.2" font-size="10" fill="#131722" textLength="23" lengthAdjust="spacingAndGlyphs">USDT</text>
<text x="39.5" y="490.8" font-size="10" fill="#131722" text-anchor="middle">16</text>
<text x="92.1" y="490.8" font-size="10" fill="#131722" text-anchor="middle">19</text>
<text x="144.7" y="490.8" font-size="10" fill="#131722" text-anchor="middle">22</text>
<text x="197.3" y="490.8" font-size="10" fill="#131722" text-anchor="middle">25</text>
<text x="249.9" y="490.8" font-size="10" fill="#131722" text-anchor="middle">28</text>
<text x="302.5" y="490.8" font-size="10" fill="#131722" text-anchor="middle" font-weight="bold">Dec</text>
<text x="355.1" y="490.8" font-size="10" fill="#131722" text-anchor="middle">4</text>
<text x="407.7" y="490.8" font-size="10" fill="#131722" text-anchor="middle">7</text>
<text x="460.3" y="490.8" font-size="10" fill="#131722" text-anchor="middle">10</text>
<text x="512.9000000000001" y="490.8" font-size="10" fill="#131722" text-anchor="middle">13</text>
<text x="565.5" y="490.8" font-size="10" fill="#131722" text-anchor="middle">16</text>
<text x="618.1" y="490.8" font-size="10" fill="#131722" text-anchor="middle">19</text>
<text x="670.7" y="490.8" font-size="10" fill="#131722" text-anchor="middle">22</text>
<text x="723.3000000000001" y="490.8" font-size="10" fill="#131722" text-anchor="middle">25</text>
<text x="775.9" y="490.8" font-size="10" fill="#131722" text-anchor="middle">28</text>
<g fill="#141414"><path d="M10.2 517.2h9.8v12.5h-5v-7.8h-4.8z"/><circle cx="24.4" cy="519.6" r="2.4"/><path d="M28.9 517.2h6.2L30.8 529.7h-6z"/></g>
<text x="41.4" y="529.7" font-size="17.2" font-weight="bold" fill="#141414" stroke="#141414" stroke-width=".3" textLength="100.2" lengthAdjust="spacingAndGlyphs">TradingView</text>
</svg></body></html>
